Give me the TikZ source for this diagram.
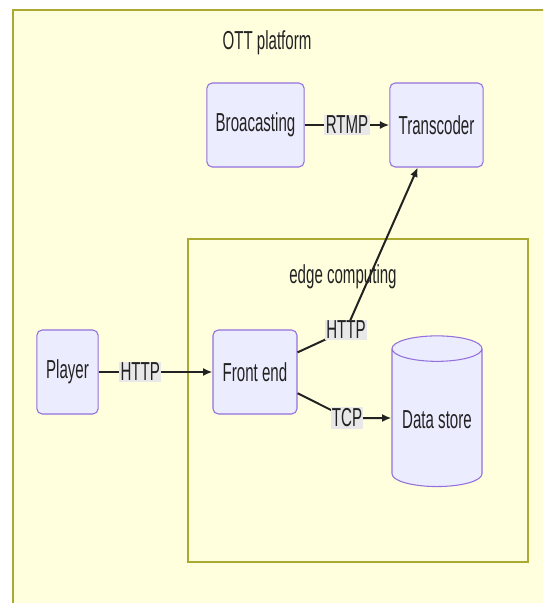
\documentclass[tikz,border=0pt]{standalone}
\usepackage{fontspec}
\setmainfont{Liberation Sans}[FakeStretch=0.58]
\usetikzlibrary{arrows.meta,shapes.geometric}
\definecolor{ClusterFill}{HTML}{FFFFDE}
\definecolor{ClusterLine}{HTML}{AAAA33}
\definecolor{BoxFill}{HTML}{ECECFF}
\definecolor{BoxLine}{HTML}{9370DB}
\definecolor{LabelFill}{HTML}{E8E8E8}
\definecolor{TextClr}{HTML}{222222}
\begin{document}
\begin{tikzpicture}[x=0.75pt,y=-0.75pt,
  font=\fontsize{19.5}{22}\selectfont,
  cluster/.style={draw=ClusterLine,fill=ClusterFill,line width=0.8pt},
  box/.style={draw=BoxLine,fill=BoxFill,rounded corners=4pt,line width=0.8pt,
    text=TextClr,minimum height=63pt,inner sep=2pt},
  store/.style={cylinder,shape border rotate=90,aspect=0.34,draw=BoxLine,
    fill=BoxFill,line width=0.8pt,text=TextClr,minimum width=67.5pt,
    minimum height=113pt,inner sep=2pt},
  edge/.style={draw=TextClr,line width=1.5pt,-{Latex[length=7pt,width=6pt]}},
  lbl/.style={fill=LabelFill,text=TextClr,inner sep=1pt},
  title/.style={text=TextClr}]
\clip (0,0) rectangle (543,603);
\fill[white] (0,0) rectangle (543,603);

% clusters
\draw[cluster] (13,10) rectangle (560,620);
\node[title] (ott) at (267,43) {OTT platform};
\draw[cluster] (188,239) rectangle (528,562);
\node[title] (edge) at (343,277) {edge computing};

% nodes
\node[box,minimum width=73pt] (brd) at (255.5,125) {Broacasting};
\node[box,minimum width=70pt] (tc) at (436.5,125) {Transcoder};
\node[box,minimum width=46pt] (ply) at (67.5,372) {Player};
\node[box,minimum width=63pt] (fe) at (255,372) {Front end};
\node[store] (ds) at (437,420) {Data store};

% edges
\coordinate (fe-tc) at (346,330);
\coordinate (fe-ds) at (347,418);
\draw[edge] (brd) -- (tc) node[lbl,midway] {RTMP};
\draw[edge] (ply) -- (fe) node[lbl,pos=0.365] {HTTP};
\draw[edge] (fe) -- (fe-tc) -- (tc);
\node[lbl] at (fe-tc) {HTTP};
\draw[edge] (fe) -- (fe-ds) -- (fe-ds -| ds.west);
\node[lbl] at (fe-ds) {TCP};
\end{tikzpicture}
\end{document}
